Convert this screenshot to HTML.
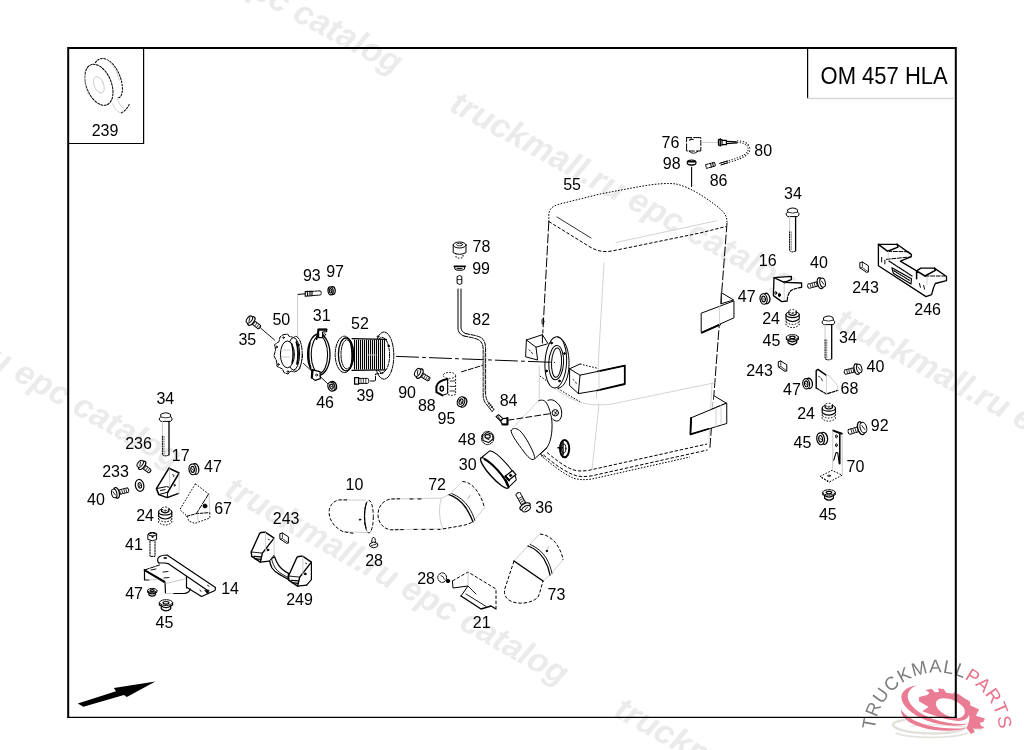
<!DOCTYPE html>
<html lang="en"><head><meta charset="utf-8"><title>OM 457 HLA</title>
<style>
html,body{margin:0;padding:0;background:#fff}
body{width:1024px;height:750px;overflow:hidden}
svg{display:block;will-change:transform;transform:translateZ(0)}
.lb text{font:16px "Liberation Sans",Arial,sans-serif;fill:#000}
.ttl{font:22px "Liberation Sans",Arial,sans-serif;fill:#000}
.wm text{font:italic bold 33.7px "Liberation Sans",Arial,sans-serif;fill:#ebebeb}
.lg{font:18.5px "Liberation Sans",Arial,sans-serif;letter-spacing:1px}
.p{fill:none;stroke:#000;stroke-width:1;stroke-linecap:round;stroke-linejoin:round}
.d{stroke-dasharray:3.4 1.8;stroke-linecap:butt}
.dd{stroke-dasharray:1.6 1.5;stroke-linecap:butt}
.g{stroke:#c8c8c8}
.w{fill:#fff}
</style></head><body>
<svg width="1024" height="750" viewBox="0 0 1024 750">
<rect width="1024" height="750" fill="#fff"/>
<g class="wm">
<text transform="translate(448 110) rotate(28.5)">truckmall.ru epc catalog</text>
<text transform="translate(833 327) rotate(28.5)">truckmall.ru epc catalog</text>
<text transform="translate(54 -110) rotate(28.5)">truckmall.ru epc catalog</text>
<text transform="translate(223 495) rotate(29.5)">truckmall.ru epc catalog</text>
<text transform="translate(-164 279) rotate(29.5)">truckmall.ru epc catalog</text>
<text transform="translate(612.5 715.5) rotate(29.5)">truckmall.ru epc catalog</text>
</g>
<g id="logo">
<g transform="translate(890 670) scale(0.10742)">
<g fill="none" stroke="#d9d9d2" stroke-linecap="round">
<path d="M700 540C600 610 250 600 110 560C-20 520 20 480 130 468" stroke-width="22" opacity=".8"/>
<path d="M60 590C200 640 560 640 720 590" stroke-width="16" opacity=".7"/>
<path d="M200 522C350 500 640 505 850 560" stroke-width="14" opacity=".6"/>
</g>
<g fill="#ea7c94">
<path d="M255 143C200 160 165 200 165 250C170 320 260 410 400 455C520 495 640 510 725 498C640 535 470 520 340 470C200 415 105 330 105 250C110 190 180 150 255 143Z"/>
<path d="M103 365C130 420 220 480 350 515C470 545 600 550 705 540C620 575 430 575 300 535C170 495 100 440 103 365Z"/>
<path fill-rule="evenodd" d="M270 252L348 232L368 212L330 186L388 174L418 208L458 204L446 170L502 180L522 212L585 222L600 208L640 225L700 268L712 272L745 296L748 330L795 352L830 368L812 398L800 425L850 442L884 452L868 484L836 492L848 522L880 530L858 548L792 548L772 540L790 578L752 596L712 540C745 480 740 430 735 415C730 450 700 470 640 475C560 475 420 430 300 385L360 345L270 290ZM433 291C406 349 490 420 595 446C680 458 715 410 687 351C640 290 560 262 500 262C465 262 444 272 433 291Z"/>
</g>
</g>
<path id="arc" d="M874.7 730A62.5 62.5 0 0 1 999.5 735A62.5 62.5 0 0 1 990 762" fill="none"/>
<text class="lg"><textPath href="#arc"><tspan fill="#7d7d7d">TRUCKMALL</tspan><tspan fill="#e8718c">PARTS</tspan></textPath></text>
</g>
<g fill="none" stroke="#000">
<path d="M68.2 718V48H955.8V718" stroke-width="2" stroke-linejoin="miter"/>
<path d="M67.2 717.4H956.8" stroke-width="1.4"/>
<path d="M143.6 48V143.5H68" stroke-width="1.2"/>
<path d="M807.6 48V98.3" stroke-width="1.2"/>
<path d="M807.6 98.5H955" stroke="#d8d8d8" stroke-width="1.4"/>
</g>
<text class="ttl" transform="translate(820.6 83.8) scale(1 1.07)">OM 457 HLA</text>
<g class="p" id="tank">
<!-- top face -->
<path class="dd" d="M548.8 222V215C549 209 552 206.5 558 204.5L600 194L640 186.5C655 183.8 668 182.8 676 184C690 187 705 197 718 207C724 212 727 216 727 222"/>
<path class="d" d="M548.8 221.5L590 247C598 251.5 604 252.3 612 251L700 233L726 226.5"/>
<path d="M557 217L591 238" stroke-width=".8"/>
<path class="g" d="M616 242.5L716.5 220.8" stroke-width=".8"/>
<!-- sides -->
<path d="M548.8 222L542.8 333" stroke-dasharray="9 3"/>
<path d="M727 223L709.8 449" stroke-dasharray="9 3"/>
<path class="g" d="M604 263L596.3 398M599 404L592 470M712 383L709 440" stroke-width=".8"/>
<ellipse cx="542.9" cy="321.5" rx=".9" ry="3"/>
<!-- contour -->
<path class="g" d="M539.2 366V400M548 383C556 390 566 397 577 401C588 405.5 600 405.5 612 404L714.4 382.8" stroke-width=".8"/>
<path class="dd" d="M540 376C552 385 566 394 580 401.6"/>
<!-- bottom -->
<path class="d" d="M547 452.5C555 459 563 465.5 570 468.5C575 471 580 471.5 588 470.5L707 444"/>
<path class="d" d="M543.5 455C553 463 564 471 573 474.6C578 476.8 584 477 592 475.8L707.5 450"/>
<path class="dd" d="M541 455.5C551 464 563 473.5 573 478C579 480 585 480 592 479L690 457"/>
<!-- right upper strap -->
<path d="M721.6 292.8L733.6 300L721.6 303.6Z" class="w"/>
<path d="M733.6 301L701.2 313.2V332.4L733.6 318Z" class="w"/>
<path d="M702 332.8L720 324.6" stroke-width="1.8"/>
<path class="g" d="M719.5 306.5V325" stroke-width=".8"/>
<!-- right lower strap -->
<path d="M714.4 396L726.4 403.2L712 409" class="w"/>
<path d="M726.4 403.2L691.6 417.6L690.4 434.4L726.4 423.6Z" class="w"/>
<path d="M691 417.8L690.4 434.4L708 429" stroke-width="1.8"/>
<path class="g" d="M716 408V426.5M721 405.5V425" stroke-width=".8"/>
<!-- front bracket -->
<path class="w" d="M569.6 368.8L580 364L598.4 368L624.8 365.6V384L597.6 390.4L578.4 393.6L569.6 385.6Z" stroke="none"/>
<path d="M569.6 368.8L580 375.2L624.8 365.6M580 375.2L578.4 393.6M569.6 368.8V385.6L578.4 393.6L597.6 390.4M569.6 368.8L580 364"/>
<path class="dd" d="M580 364L598.4 368.5"/>
<path d="M598 371.3L624.8 365.6V384L597.6 390.4" stroke-width="1.8"/>
<path class="g" d="M599 371V390" stroke-width=".8"/>
<path d="M573 379.5l1 .8M575.5 382l.8 1.4" stroke-width=".8"/>
<!-- left bracket -->
<path d="M526.4 340L542.4 334.7L548 343.5M526.4 340L536 347.2L547 344M526.4 340L525.6 356.8L537.6 360L536 347.2M542.4 334.7V343"/>
<path d="M529 350l1.2 .8M531.5 352.2l1 1.6" stroke-width=".8"/>
<!-- flange -->
<ellipse cx="555.8" cy="362.4" rx="10.8" ry="25.6" class="w" transform="rotate(3 556 362)"/>
<path d="M557.6 336.9C566 339 569.4 352 569 365C568.6 378 564.6 387.5 558 388.3"/>
<ellipse cx="556.2" cy="362.6" rx="7.4" ry="17.2" transform="rotate(3 556 362)"/>
<ellipse cx="556.6" cy="362.6" rx="5" ry="14.6" transform="rotate(3 556 362)"/>
<circle cx="551.5" cy="343" r=".9" fill="#000"/><circle cx="564.5" cy="353.5" r=".9" fill="#000"/>
<circle cx="546.5" cy="371" r=".9" fill="#000"/><circle cx="559.5" cy="381" r=".9" fill="#000"/>
<!-- outlet -->
<path class="w" d="M538.4 400.8C541 399.6 544.5 399.8 546.5 403C550 409 552.5 418 552 428C551.8 436 550 443 547 447.5L534.4 458.6L511.5 430Z" stroke="none"/>
<path d="M538.4 400.8C541 399.6 544.5 399.8 546.5 403C550 409 552.5 418 552 428C551.8 436 550 443 547 447.5L534.6 458.8"/>
<path class="g" d="M538.4 400.8L512 428.8" stroke-width=".8"/>
<path class="w" d="M511.2 430.5C512.5 428 516 427.6 519.5 430.5C524 434 530 445 533 452C535 456.5 535 459.5 533 459.6C530 459.6 526 455 521.5 448.5C516 441 510.5 433.5 511.2 430.5Z"/>
<path class="w" d="M548 400.3C550 399.5 552.6 399.6 554.5 400.8C558 403 561 406.5 561.6 411C562.2 415.5 561 419.5 558.4 420.8C556 421.5 554 420.5 552.6 419"/>
<circle cx="555.3" cy="412.8" r="3.2"/><path d="M553.8 411.5l3 2.6M556.8 410.6l-2.4 4.6" stroke-width=".8"/>
<path d="M508 420.2L552 413.4" stroke-dasharray="6 3"/>
<!-- drain plug -->
<ellipse cx="564.6" cy="448.6" rx="4.6" ry="8.6" stroke-width="2"/>
<ellipse cx="563.6" cy="448.4" rx="2.3" ry="4.6"/>
<path d="M558 447.8h4M563 442v13" stroke-width="1.4"/>
<path d="M540.5 454L547 447.8M540.5 454l2.6 2.2" />
</g>
<g class="p" id="left"><path class="w" d="M161 414.3Q165.7 411.2 170.4 414.3L170.8 417L172 418.2V420L170.4 421.4H161L159.4 420V418.2L160.6 417Z"/><path d="M161 417.1Q165.7 418.8 170.4 417.1" stroke-width=".8"/><path class="g" d="M162.4 421.4V436.3" stroke="#aaa"/><path d="M162.4 436.3V454.8Q165.7 457 169 454.8" stroke-dasharray="1.2 1.2"/><path d="M169 454.8V421.4" stroke-width="1.3"/><path d="M164 436.3V453.8" stroke-dasharray="1 1.4" stroke-width="1.2" stroke="#888"/><g transform="translate(140.2 463.8) rotate(38)"><path class="w" d="M3 -2.1H12Q13.8 0 12 2.1H3Z" stroke-dasharray="2.2 1"/><path d="M6 -1.5V1.5M8.2 -1.5V1.5M10.4 -1.5V1.5M12.4 -1.5V1.5" stroke-width=".7"/><ellipse class="w" cx="2.4" cy="0" rx="2.5" ry="4.9" stroke-width="1.3"/><ellipse class="w" cx="0" cy="0" rx="2.4" ry="4"/><path d="M-.8 -1.7L.8 1.7" stroke-width=".8"/></g><ellipse class="w" cx="139.6" cy="485.4" rx="4.2" ry="6" transform="rotate(-12 139.6 485.4)" stroke-width="1.2"/><ellipse cx="139.8" cy="485.4" rx="1.7" ry="2.8" transform="rotate(-12 139.6 485.4)"/><path d="M138.6 483.6l1.8 1.2l-1 2" stroke-width=".8"/><g transform="translate(114.2 493.4) rotate(-14)"><path class="w" d="M3 -2.3H14Q15.8 0 14 2.3H3Z" stroke-dasharray="2.2 1"/><path d="M6 -1.7V1.7M8.2 -1.7V1.7M10.4 -1.7V1.7M12.4 -1.7V1.7" stroke-width=".7"/><ellipse class="w" cx="2.4" cy="0" rx="2.7" ry="5.4" stroke-width="1.3"/><ellipse class="w" cx="0" cy="0" rx="2.6" ry="4.4"/><path d="M-.8 -1.9L.8 1.9" stroke-width=".8"/></g><g transform="translate(192.6 469.4) rotate(-8)"><ellipse class="w" cx="2.6" cy="0" rx="3.6" ry="5.4" stroke-width="1.3"/><ellipse class="w" cx="0" cy="0" rx="3.6" ry="5.4" stroke-width="1.2"/><ellipse cx="0" cy="0" rx="1.8" ry="3" stroke-width="1.1"/><path d="M-.8 -1L.8 1" stroke-width=".8"/></g><path class="w" d="M169 468.2L179.2 473V491L178.6 493.4L167.2 497.6L158.8 494.6L156.4 488.6Z" stroke="none"/>
<path d="M169 468.2L156.4 488.6L158.8 494.6L167.2 497.6L178.6 493.4" stroke-width="1.5"/>
<path d="M169 468.2L179.2 473L167.8 492.2" stroke-width="1.5"/>
<path d="M156.4 488.6L166.6 486.6L169.6 487.4M158.8 494.6L167.8 492.2L167.2 497.6M160.5 490.5L165 489.6" stroke-width="1"/>
<path class="g" d="M169.6 468.8V487.4M179.2 473V491L178.6 493.4" stroke-width=".9"/>
<path d="M172.6 474.6l1.6 .8l-.6 1.4M174.6 484.4l1.2 .8l-1.2 .8z" stroke-width=".8"/><path class="w" d="M195.4 483.8L208.6 494L209.8 512.6V518L194.8 523.4L188.8 521L187 516.2L179.8 509.6Z" stroke="none"/>
<path class="dd" d="M195.4 483.8L179.8 509.6L187 516.2M195.4 483.8L208.6 494"/>
<path d="M208.6 494L196.4 513.6" stroke-dasharray="5 1.5"/>
<path d="M187 516.2L196.4 513.6L209.8 512.6" stroke-dasharray="3 1.5"/>
<path class="dd" d="M187 516.2L188.8 521L194.8 523.4L209.8 518V512.6"/>
<path class="g" d="M209 495L209.8 512.6M197.5 514L198.2 522" stroke-width=".9"/>
<circle cx="205" cy="506" r="1.9" fill="#000"/><path class="w dd" d="M158.6 518V522.5Q165.2 527.5 171.8 522.5V518"/><path class="dd" d="M158.6 519.4Q165.2 524.4 171.8 519.4"/><path class="w" d="M158.6 512V516.5Q165.2 521.5 171.8 516.5V512" stroke-width="1.2"/><ellipse class="w" cx="165.2" cy="512" rx="6.6" ry="3" stroke-width="1.2"/><path class="w" d="M161.6 508.6V511.6Q165.2 514 168.8 511.6V508.6" stroke-width="1.2"/><ellipse class="w dd" cx="165.2" cy="508.6" rx="3.6" ry="1.6"/><path d="M164.2 510.4l1 1l1 -1" stroke-width=".8"/><path class="w" d="M148.2 534.2Q152.4 531.4 156.6 534.2V539.6Q152.4 542 148.2 539.6Z"/>
<ellipse cx="152.4" cy="534.2" rx="4.2" ry="1.7"/><circle cx="152.4" cy="536.8" r=".6" fill="#000"/>
<path d="M150 541V556.4H155V541" stroke-dasharray="1.6 1.2"/><path class="w" d="M157.5 559C157.6 556.6 160.6 555 164 555H167L215.5 587.5L215 590.5L201.5 596.5L190.5 589.6C189 592 186.6 593.4 184 593.5H165.5L165 582L144.5 580V570L159.5 565L159 563Z" stroke="none"/>
<path d="M159 563C157 561.6 157 558.4 159.6 556.6C161.6 555.2 164 555 167 555L215.5 587.5L215 590.5L201.5 596.5L187 587.5" stroke-width="1.2"/>
<path d="M159 563H165L168 563.6L207.6 590.4" stroke-width="1.2"/>
<path d="M205 590.6L207.8 594L209 590.6Z" fill="#000" stroke-width=".8"/>
<path d="M159.5 565L144.5 570" stroke-dasharray="4 1.4"/>
<path d="M144.5 570L165 582" stroke-width="1.8" stroke-dasharray="5 1"/>
<path d="M146 571.6L163.6 582.4" stroke-width=".8"/>
<path d="M144.5 570V580H149M165 582L165.5 593.5M173 593.5H184C187 593.4 189.4 591.6 190.5 589" stroke-width="1.2"/>
<path d="M186.5 576V588" stroke-width="1.2"/>
<path class="g" d="M149 580L156.5 579.5M165.5 593.5H173M166 583.5L185 579" stroke-width="1"/>
<path d="M163 572L168 571.5M164 578L169 577.5M151 570L156 569" stroke-width=".9"/>
<ellipse cx="165" cy="558" rx="1.5" ry=".6" stroke-width=".8"/><path d="M200 590l1 1.4M207.6 585.4l1.4 .8" stroke-width=".9"/><path class="w" d="M147.6 590.4V592L148.9 592.8V594.7Q152.2 597.7 155.5 594.7V592.8L156.8 592V590.4" stroke-width="1.2"/><ellipse class="w" cx="152.2" cy="590.4" rx="4.6" ry="2" stroke-dasharray="3 1"/><ellipse cx="152.2" cy="590.6" rx="2.1" ry="0.9" stroke-width="1.2"/><path d="M148.9 592.8Q152.2 595.1 155.5 592.8" stroke-width="1.2"/><path class="w" d="M159.4 602.6V604.9L161.3 606V608.8Q166 613 170.7 608.8V606L172.6 604.9V602.6" stroke-width="1.2"/><ellipse class="w" cx="166" cy="602.6" rx="6.6" ry="2.9" stroke-dasharray="3 1"/><ellipse cx="166" cy="602.8" rx="3" ry="1.3" stroke-width="1.2"/><path d="M161.3 606Q166 609.4 170.7 606" stroke-width="1.2"/><path class="w" d="M280.2 533.6L282.4 533L288.4 536.8V542.8L286.6 543.4L280.2 539Z"/><path d="M282.4 533V538.6L288.4 542.8M280.2 539L282.4 538.6" stroke-width=".8" stroke-dasharray="1.5 1"/><path class="w" d="M269.3 559.5C270 563 271 566 272 568C274 571 277 573 279.5 574.4L288 579.2L288.5 573.3C284 571 280.5 568 278.4 564.8C276.6 562 275.4 559.4 274.7 556.8Z" stroke-width="1.3"/>
<path d="M271.6 559C272.6 563 274 566.4 276 569C278.6 572 282 574.6 288.2 577.4" stroke-width=".9"/><path class="w" d="M259.7 533.3L265.6 532.3L274.1 538.1L274.1 555.2L269.3 561.1L260.3 562.1L251.7 556.3L251.2 552.0Z" stroke="none"/><path d="M251.7 556.3L251.2 552.0L259.7 533.3Q261.0 532.0 265.6 532.3L274.1 538.1L262.4 553.1L260.3 562.1" stroke-width="1.4"/><path d="M251.7 556.3L260.3 562.1L269.3 561.1" stroke-width="1.4"/><path d="M251.2 552.0L262.4 553.1" stroke-width=".9"/><path d="M253.9 556.3L261.3 556.8M254.5 558.6L260.8 559.4" stroke-width="1.3"/><path class="g" d="M265.6 532.6V552.0" stroke-width=".9"/><path class="g" d="M274.1 538.1V555.2" stroke-width=".9"/><path d="M274.1 555.2L269.3 561.1" stroke-width="1"/><circle cx="267.9" cy="549.9" r=".9" fill="#000"/><path d="M268.2 539.2l1.2 .6" stroke-width=".8"/><path class="w" d="M297.0 557.3L302.9 556.3L311.4 562.1L311.4 579.2L306.6 585.1L297.6 586.1L289.0 580.3L288.5 576.0Z" stroke="none"/><path d="M289.0 580.3L288.5 576.0L297.0 557.3Q298.3 556.0 302.9 556.3L311.4 562.1L299.7 577.1L297.6 586.1" stroke-width="1.4"/><path d="M289.0 580.3L297.6 586.1L306.6 585.1" stroke-width="1.4"/><path d="M288.5 576.0L299.7 577.1" stroke-width=".9"/><path d="M291.2 580.3L298.6 580.8M291.8 582.6L298.1 583.4" stroke-width="1.3"/><path class="g" d="M302.9 556.6V576.0" stroke-width=".9"/><path d="M311.4 562.1V579.6L306.6 585.1" stroke-width="1.2"/><circle cx="305.2" cy="573.9" r=".9" fill="#000"/><path d="M305.5 563.2l1.2 .6" stroke-width=".8"/></g>
<g class="p" id="mid"><path d="M396.5 356.4L554.5 362.4" stroke-dasharray="22 4 3 4"/><path class="g" d="M297.6 295V336" stroke-width=".9"/><path d="M298 294.4L305 293.8" /><path d="M305.2 291.6L312 291.2V295.8L305.2 296.2ZM307.6 291.4V296M310 291.2V296" stroke-width="1.1"/><path d="M312 291.4L320.4 290.8Q322 292.8 320.6 295L312 295.6" stroke-dasharray="2 1"/><g transform="translate(330.6 290.8) rotate(-5)"><ellipse class="w" cx="2" cy="0" rx="2.6" ry="4" stroke-width="1.3"/><ellipse class="w" cx="0" cy="0" rx="2.6" ry="4" stroke-width="1.2"/><ellipse cx="0" cy="0" rx="1.3" ry="2.2" stroke-width="1.1"/><path d="M-.8 -1L.8 1" stroke-width=".8"/></g><g transform="translate(249.4 319.6) rotate(37)"><path class="w" d="M3 -2.1H12.5Q14.3 0 12.5 2.1H3Z" stroke-dasharray="2.2 1"/><path d="M6 -1.5V1.5M8.2 -1.5V1.5M10.4 -1.5V1.5M12.4 -1.5V1.5" stroke-width=".7"/><ellipse class="w" cx="2.4" cy="0" rx="2.5" ry="5" stroke-width="1.3"/><ellipse class="w" cx="0" cy="0" rx="2.4" ry="4.1"/><path d="M-.8 -1.8L.8 1.8" stroke-width=".8"/></g><path d="M261 328.4L274.6 340" stroke-width=".9"/><path class="w" d="M283 334.8L287.6 334L289 336.4C292 336.6 294.4 337.8 296 340L300 343L300.6 350L302.6 356L301 363L299.6 369L294.6 372L291 371L288 374L284 372.6L282.6 369L277 366.4L276.6 361L274 356L275.6 349.6L274.6 344.6L279 341.6L280 337Z" stroke-dasharray="3.4 1.2"/>
<ellipse cx="295.8" cy="353.8" rx="6.4" ry="17.4" class="w" stroke-dasharray="4 1.4"/>
<ellipse cx="293.6" cy="353.8" rx="6" ry="16.2" class="w"/>
<ellipse cx="287.4" cy="354.4" rx="7" ry="13.4" class="w"/>
<path d="M296.4 342C298.4 348 298.6 358 297 364" stroke-width="1.8"/>
<path d="M291.6 343.4C293.2 349 293.2 358 292 363.4" stroke-width="1.4"/>
<path class="g" d="M281 350H290M281 357H290" stroke-width=".9"/>
<circle cx="283.6" cy="337.6" r=".8"/><circle cx="276.6" cy="347" r=".8"/><circle cx="278.4" cy="364.4" r=".8"/><circle cx="288" cy="371.6" r=".8"/><circle cx="298.4" cy="345" r=".8"/>
<path d="M303.4 363.4L311.8 371" stroke-width=".9"/><ellipse cx="318.8" cy="354.6" rx="11.2" ry="20.6" class="w" stroke-width="1.3"/>
<ellipse cx="319.4" cy="354.6" rx="8.2" ry="18.6" stroke-width="1.1"/>
<path d="M310 343C308 350 308.2 361 310.6 367.6" stroke-width="1.6"/>
<path class="w" d="M318.6 337.6V329.4H326.6V331.6L322.6 332V337.6Z" stroke-width="1.2"/>
<path d="M318.4 329.6H326.4" stroke-width="2.2"/>
<path d="M316.6 339L318.4 330" stroke-width="1.8"/>
<circle cx="324.6" cy="334.6" r="1" stroke-width=".8"/>
<path class="w" d="M312.4 369.8L311.6 377.6L315 380.4L320.4 378.6L320 371.6Z" stroke-width="1.2"/>
<path d="M312.6 370L311.8 377.6" stroke-width="2.2"/>
<circle cx="316.6" cy="375" r="1" stroke-width=".8"/>
<path d="M319.6 376L328 384" stroke-width=".9"/><g transform="translate(331.4 386.6) rotate(-20)"><ellipse class="w" cx="1.8" cy="0" rx="3.4" ry="4.6" stroke-width="1.3"/><ellipse class="w" cx="0" cy="0" rx="3.4" ry="4.6" stroke-width="1.2"/><ellipse cx="0" cy="0" rx="1.7" ry="2.5" stroke-width="1.1"/><path d="M-.8 -1L.8 1" stroke-width=".8"/></g><ellipse cx="384" cy="355.6" rx="9.8" ry="23.6" class="w" stroke-dasharray="3.4 1.2"/>
<ellipse cx="382" cy="355" rx="7.6" ry="17.6" stroke-dasharray="3 1.4"/>
<rect x="350" y="339" width="34" height="31" class="w" stroke="none"/>
<path d="M354.5 339.4V369.6M356.5 340V369.6M358.5 339.4V369.6M360.5 340V369.6M362.5 339.4V369.6M364.5 340V369.6M366.5 339.4V369.6M368.5 340V369.6M370.5 339.4V369.6M372.5 340V369.6M374.5 339.4V369.6M376.5 340V369.6M378.5 339.4V369.6M380.5 340V369.6M382.5 339.4V369.6M384.5 340V369.6" stroke-width="1.1" stroke-linecap="butt"/>
<path d="M352 338.6L386.4 339.4M352 370.4L385.6 369.8" stroke-width="1.2"/>
<ellipse cx="344.4" cy="354.4" rx="9.2" ry="18.2" class="w" stroke-dasharray="3.4 1.2"/>
<ellipse cx="346" cy="354.4" rx="7.6" ry="16.4" stroke-width="1.3"/>
<ellipse cx="346.8" cy="354.4" rx="5.8" ry="14.6" stroke-dasharray="3 1.2"/>
<path d="M349 340C352.6 345 353 364 349.6 369" stroke-width="1.3"/>
<circle cx="388.6" cy="346" r=".8" fill="#000"/><circle cx="378" cy="336.6" r=".8"/>
<path class="g" d="M368 355H376" stroke-width="1.2"/><path class="w" d="M354.6 377.6H358.6V384.2H354.6Z" stroke-width="1.3"/><path d="M358.6 378.4H368Q369.8 381 368 383.4H358.6" stroke-dasharray="2.2 1"/><path d="M361 378.6V383.2M363.4 378.6V383.2M365.8 378.6V383.2" stroke-width=".7"/><path d="M370.6 381H375.5V374L383 373.2" stroke-dasharray="4 1.6"/><g transform="translate(417.6 372.4) rotate(31)"><path class="w" d="M3 -2.1H13Q14.8 0 13 2.1H3Z" stroke-dasharray="2.2 1"/><path d="M6 -1.5V1.5M8.2 -1.5V1.5M10.4 -1.5V1.5M12.4 -1.5V1.5" stroke-width=".7"/><ellipse class="w" cx="2.4" cy="0" rx="2.6" ry="5.2" stroke-width="1.3"/><ellipse class="w" cx="0" cy="0" rx="2.5" ry="4.3"/><path d="M-.8 -1.8L.8 1.8" stroke-width=".8"/></g><path class="w dd" d="M447.8 376V394.4Q451.6 396.4 455.6 394.4V376"/>
<ellipse cx="449.4" cy="375.4" rx="6.2" ry="3" class="w dd"/>
<path d="M450 381h5M450 386.4h5M450 391h5" stroke-width=".8"/>
<path class="w" d="M447.4 379C442 380 437.4 382.6 436.4 386.4V392.2L442.4 395.4L447.6 393.6Z" stroke="none"/>
<path d="M447.4 379C442 380 437.4 382.6 436.4 386.4V392.2L442.4 395.4" stroke-width="2"/>
<path d="M442.4 395.4L447.6 393.6V379"/>
<ellipse cx="441.8" cy="388.6" rx="1.7" ry="2.4" stroke-width="1.4"/><g transform="translate(461 401.6) rotate(20)"><ellipse class="w" cx="2.2" cy="0" rx="3.6" ry="5" stroke-width="1.3"/><ellipse class="w" cx="0" cy="0" rx="3.6" ry="5" stroke-width="1.2"/><ellipse cx="0" cy="0" rx="1.8" ry="2.8" stroke-width="1.1"/><path d="M-.8 -1L.8 1" stroke-width=".8"/></g><path d="M461.6 371.8L483.2 365.2" stroke-dasharray="5 2"/><path class="w dd" d="M456 253V257.4Q459.6 259 463 257.4V253"/>
<path class="w" d="M453.2 245V252.6Q459.6 256 466 252.6V245"/>
<ellipse cx="459.6" cy="245" rx="6.4" ry="3" class="w"/><ellipse cx="459.6" cy="244.6" rx="3" ry="1.3" stroke-width=".8"/><path d="M454.4 266.4H465" stroke-width="1.8"/><path d="M454.6 267Q454 270 457 270.2H462.4Q465.4 270 464.8 267M457 268.6h5" stroke-width="1"/><path class="w" d="M457.4 276.4Q459.6 274.6 461.8 276.4V283.6Q459.6 285.4 457.4 283.6Z"/><path d="M457.6 279.6h4" stroke-width=".8"/>
<path d="M458 289V328C458 332 460 334.6 464 336" /><path d="M461 289V327C461 330 462.4 332.6 466 333.6"/>
<path d="M464 336C470 337.4 476 338 479.6 340.4C482.4 342.6 483.2 346 483.2 350V395.8C483.4 400 485 403 487 405" stroke-dasharray="4 1.4"/>
<path d="M466 333.6C472 335 478 335.6 481.6 338C484.6 340.4 485.6 344 485.6 349V394C485.8 398 487 401 489 403.4" stroke-dasharray="4 1.4"/>
<path class="g" d="M484.4 352V392" stroke-width="1.4"/>
<path d="M487 405L492 411.4M489.2 403.2L494 409.6M488 404.4l1.6 -1.4M489.4 406.2l1.6 -1.4M490.8 408l1.6 -1.4M492 411.4l2 -1.8" stroke-width=".9"/><path class="w" d="M496 416.6L498.6 414.6L503 418.6L500.6 421Z" stroke-width="1.1"/>
<path d="M497.6 415.6l2.8 4.4" stroke-width=".8"/>
<path class="w" d="M500.6 421L503 418.6L507.6 418.2V424.4H502.4Z" stroke-width="1.2"/>
<path d="M507.4 418V424.6H502.6" stroke-width="2"/><ellipse cx="487.6" cy="438" rx="6.2" ry="6.6" class="w" stroke-dasharray="3 1.2"/>
<path d="M482.6 435.6L487 432.6L492.6 434.4L493 439L488.6 442.6L483 440.6Z" stroke-width="1.1"/>
<ellipse cx="487.6" cy="436.4" rx="2.6" ry="1.8" stroke-width="1.2"/><path d="M486.4 438.6l2.6 1" stroke-width=".9"/><g transform="translate(494.5 473) rotate(48)">
<path class="w" d="M-20.2 0L-19.6 -11.6A20.2 4.6 0 0 1 19.6 -11.6L20.2 0" stroke-width="1"/>
<ellipse cx="0" cy="0" rx="20.2" ry="4.6" class="w" stroke-width="1.4"/>
<path d="M-17 -1.6C-8 -4.8 10 -4.8 17.6 -1.4" stroke-width="1.6"/>
</g>
<path class="w" d="M505.4 476L512.6 470.6L516 474.6L509 480Z" stroke-width="1.3"/>
<path d="M505.6 480L508.6 487M505.4 476.4l3.6 4" stroke-width="2"/>
<circle cx="510.6" cy="475.4" r="1.1" fill="#000"/><g transform="translate(526.2 508.6) rotate(-119)"><path class="w" d="M3 -2.4H17Q18.8 0 17 2.4H3Z" stroke-dasharray="2.2 1"/><path d="M6 -1.8V1.8M8.2 -1.8V1.8M10.4 -1.8V1.8M12.4 -1.8V1.8" stroke-width=".7"/><ellipse class="w" cx="2.4" cy="0" rx="2.8" ry="5.6" stroke-width="1.3"/><ellipse class="w" cx="0" cy="0" rx="2.7" ry="4.6"/><path d="M-.8 -2L.8 2" stroke-width=".8"/></g><path class="w" d="M372.2 538.4Q373.6 536.4 375 538.4L375.6 542.6H371.6Z" stroke-dasharray="2 1"/>
<path class="w" d="M370.2 543.4Q373.6 540.6 377.4 543.4L377.8 546Q373.8 549.6 369.8 546Z"/><path d="M371.4 545.6l4.6 -1.4" stroke-width=".8"/><ellipse cx="442.2" cy="577.6" rx="4.4" ry="4.8" class="w" stroke-dasharray="3 1.2"/><path d="M441 575.6q3 .6 3.4 3.6" stroke-width=".8"/><circle cx="448" cy="581" r="1.7" fill="#000"/></g>
<g class="p" id="right"><path class="w" d="M787.9 209.5Q792.6 206.4 797.3 209.5L797.7 212.2L798.9 213.4V215.2L797.3 216.6H787.9L786.3 215.2V213.4L787.5 212.2Z"/><path d="M787.9 212.3Q792.6 214 797.3 212.3" stroke-width=".8"/><path class="g" d="M789.6 216.6V231.9" stroke="#aaa"/><path d="M789.6 231.9V250.8Q792.6 253 795.6 250.8" stroke-dasharray="1.2 1.2"/><path d="M795.6 250.8V216.6" stroke-width="1.3"/><path d="M791.2 231.9V249.8" stroke-dasharray="1 1.4" stroke-width="1.2" stroke="#888"/><path class="w" d="M774 277.6L791.4 276.4V279.4L801.6 283V287.2C797 288 793 289 790.8 290.8C788.4 293 787.4 297 787.2 301L781.8 301.6L773.4 295.6Z" stroke="none"/>
<path d="M774 277.6L791.4 276.4V279.6L784.2 282.4Z" stroke-width="1.3"/>
<path d="M774 277.6L773.4 295.6L781.8 301.6L787.2 301" stroke-width="1.3"/>
<path d="M784.2 282.4L801.6 283V287.4" stroke-width="1.3"/>
<path d="M801.6 287.4C797 288 793 289 790.8 290.8C788.4 293 787.4 297 787.2 301" stroke-dasharray="3 1.6" stroke-width="1.2"/>
<path class="g" d="M784.2 283V300" stroke-width=".9"/>
<ellipse cx="775.8" cy="293" rx=".9" ry="1.5"/><ellipse cx="779.4" cy="295" rx="1" ry="1.7" fill="#000"/>
<circle cx="784.4" cy="282.2" r=".8" class="w"/><g transform="translate(822.6 282.6) rotate(165.5)"><path class="w" d="M3 -2.2H14.5Q16.3 0 14.5 2.2H3Z" stroke-dasharray="2.2 1"/><path d="M6 -1.6V1.6M8.2 -1.6V1.6M10.4 -1.6V1.6M12.4 -1.6V1.6" stroke-width=".7"/><ellipse class="w" cx="2.4" cy="0" rx="2.8" ry="5.6" stroke-width="1.3"/><ellipse class="w" cx="0" cy="0" rx="2.7" ry="4.6"/><path d="M-.8 -2L.8 2" stroke-width=".8"/></g><g transform="translate(763.6 299) rotate(-10)"><ellipse class="w" cx="2.8" cy="0" rx="3.5" ry="5.3" stroke-width="1.3"/><ellipse class="w" cx="0" cy="0" rx="3.5" ry="5.3" stroke-width="1.2"/><ellipse cx="0" cy="0" rx="1.8" ry="2.9" stroke-width="1.1"/><path d="M-.8 -1L.8 1" stroke-width=".8"/></g><path class="w" d="M860.2 262.6L862.4 262L868.4 265.8V271.8L866.6 272.4L860.2 268Z"/><path d="M862.4 262V267.6L868.4 271.8M860.2 268L862.4 267.6" stroke-width=".8" stroke-dasharray="1.5 1"/><path class="w dd" d="M786 320.6V325.1Q792.6 330.1 799.2 325.1V320.6"/><path class="dd" d="M786 322Q792.6 327 799.2 322"/><path class="w" d="M786 314.6V319.1Q792.6 324.1 799.2 319.1V314.6" stroke-width="1.2"/><ellipse class="w" cx="792.6" cy="314.6" rx="6.6" ry="3" stroke-width="1.2"/><path class="w" d="M789 311.2V314.2Q792.6 316.6 796.2 314.2V311.2" stroke-width="1.2"/><ellipse class="w dd" cx="792.6" cy="311.2" rx="3.6" ry="1.6"/><path d="M791.6 313l1 1l1 -1" stroke-width=".8"/><path class="w" d="M786.4 337.2V339.3L788.1 340.3V342.8Q792.4 346.7 796.7 342.8V340.3L798.4 339.3V337.2" stroke-width="1.2"/><ellipse class="w" cx="792.4" cy="337.2" rx="6" ry="2.6" stroke-dasharray="3 1"/><ellipse cx="792.4" cy="337.4" rx="2.7" ry="1.2" stroke-width="1.2"/><path d="M788.1 340.3Q792.4 343.4 796.7 340.3" stroke-width="1.2"/><path class="w" d="M823.8 317.5Q828.4 314.4 833 317.5L833.4 320.2L834.6 321.4V323.2L833 324.6H823.8L822.2 323.2V321.4L823.4 320.2Z"/><path d="M823.8 320.3Q828.4 322 833 320.3" stroke-width=".8"/><path class="g" d="M825.1 324.6V339.9" stroke="#aaa"/><path d="M825.1 339.9V358.8Q828.4 361 831.7 358.8" stroke-dasharray="1.2 1.2"/><path d="M831.7 358.8V324.6" stroke-width="1.3"/><path d="M826.7 339.9V357.8" stroke-dasharray="1 1.4" stroke-width="1.2" stroke="#888"/><path class="w" d="M778.6 361.6L780.8 361L786.8 364.8V370.8L785 371.4L778.6 367Z"/><path d="M780.8 361V366.6L786.8 370.8M778.6 367L780.8 366.6" stroke-width=".8" stroke-dasharray="1.5 1"/><g transform="translate(859.2 368.6) rotate(166)"><path class="w" d="M3 -2.2H14.5Q16.3 0 14.5 2.2H3Z" stroke-dasharray="2.2 1"/><path d="M6 -1.6V1.6M8.2 -1.6V1.6M10.4 -1.6V1.6M12.4 -1.6V1.6" stroke-width=".7"/><ellipse class="w" cx="2.4" cy="0" rx="2.7" ry="5.4" stroke-width="1.3"/><ellipse class="w" cx="0" cy="0" rx="2.6" ry="4.4"/><path d="M-.8 -1.9L.8 1.9" stroke-width=".8"/></g><g transform="translate(806.2 383.8) rotate(-8)"><ellipse class="w" cx="2.8" cy="0" rx="3.4" ry="5.2" stroke-width="1.3"/><ellipse class="w" cx="0" cy="0" rx="3.4" ry="5.2" stroke-width="1.2"/><ellipse cx="0" cy="0" rx="1.7" ry="2.9" stroke-width="1.1"/><path d="M-.8 -1L.8 1" stroke-width=".8"/></g><path class="w" d="M816.2 370.6L818 369.4L826.4 375.4H828.8L837.8 385.6V390.4L826.4 394L816.2 388Z" stroke="none"/>
<path d="M816.2 388V370.6L818 369.4L826.4 375.4" stroke-width="1.4"/>
<path d="M816.2 388L826.4 394L837.8 390.4" stroke-dasharray="3 1.4" stroke-width="1.2"/>
<path class="g" d="M826.4 375.4V393.6M826.4 375.4H828.8L837.8 385.6V390.4" stroke-width=".9"/>
<path d="M818.6 376.4l1.6 .8M821.4 378.6l1 2.2" stroke-width=".8"/><path class="w dd" d="M822.2 414.2V418.7Q828.8 423.7 835.4 418.7V414.2"/><path class="dd" d="M822.2 415.6Q828.8 420.6 835.4 415.6"/><path class="w" d="M822.2 408.2V412.7Q828.8 417.7 835.4 412.7V408.2" stroke-width="1.2"/><ellipse class="w" cx="828.8" cy="408.2" rx="6.6" ry="3" stroke-width="1.2"/><path class="w" d="M825.2 404.8V407.8Q828.8 410.2 832.4 407.8V404.8" stroke-width="1.2"/><ellipse class="w dd" cx="828.8" cy="404.8" rx="3.6" ry="1.6"/><path d="M827.8 406.6l1 1l1 -1" stroke-width=".8"/><g transform="translate(863.4 427.6) rotate(163)"><path class="w" d="M3 -2.5H15Q16.8 0 15 2.5H3Z" stroke-dasharray="2.2 1"/><path d="M6 -1.9V1.9M8.2 -1.9V1.9M10.4 -1.9V1.9M12.4 -1.9V1.9" stroke-width=".7"/><ellipse class="w" cx="2.4" cy="0" rx="3.3" ry="6.6" stroke-width="1.3"/><ellipse class="w" cx="0" cy="0" rx="3.2" ry="5.4"/><path d="M-.8 -2.3L.8 2.3" stroke-width=".8"/></g><g transform="translate(820.6 438.8) rotate(-8)"><ellipse class="w" cx="3.2" cy="0" rx="3.8" ry="6" stroke-width="1.3"/><ellipse class="w" cx="0" cy="0" rx="3.8" ry="6" stroke-width="1.2"/><ellipse cx="0" cy="0" rx="1.9" ry="3.3" stroke-width="1.1"/><path d="M-.8 -1L.8 1" stroke-width=".8"/></g><path class="w" d="M833.2 430.8L841.6 433.8L842.2 475.2L829.6 481.8L820 476.4L832.6 470Z" stroke="none"/>
<path d="M833.2 430.6L841.8 433.8" stroke-width="2"/>
<path d="M839.8 434.4V463.8" stroke-width="1.5"/>
<path class="g" d="M832.8 431V469.4M842 434.4L842.3 475" stroke-width="1"/>
<ellipse cx="836.4" cy="436.4" rx=".9" ry="1.5"/><ellipse cx="836.4" cy="445.2" rx=".9" ry="1.5"/>
<path d="M833.8 460.2L836 452.6L837.8 452.8L839.2 463.6" stroke-width="1.1"/>
<path class="dd" d="M820 476.4L832 470.4L842.2 475.2L829.6 481.8ZM821.6 477.6L829.8 483"/>
<ellipse cx="829" cy="475.8" rx="1.6" ry=".7" stroke-width=".8"/><path class="w" d="M822.8 492.4V494.6L824.6 495.6V498.2Q829 502.2 833.4 498.2V495.6L835.2 494.6V492.4" stroke-width="1.2"/><ellipse class="w" cx="829" cy="492.4" rx="6.2" ry="2.7" stroke-dasharray="3 1"/><ellipse cx="829" cy="492.6" rx="2.8" ry="1.2" stroke-width="1.2"/><path d="M824.6 495.6Q829 498.8 833.4 495.6" stroke-width="1.2"/><path class="w" d="M878.4 244.3H897.1L911.5 254.6L911 256.9L900.3 261.1L916.6 270.9L920.8 268.1H934.4L946.5 276.5V280.7L935.3 283.5C933.4 287 932.4 291 931.6 294.7L926 296.6L878.4 265.8Z" stroke-width="1.3"/>
<path d="M878.4 244.3L887.7 251.3L898 247.1L897.1 244.3" stroke-width="1.5"/>
<path d="M887.7 251.3L909.2 251.8L911.5 254.6" stroke-dasharray="4 1.6"/>
<path d="M886.3 259.3L911 256.9" stroke-dasharray="4 1.6"/>
<path class="g" d="M888.2 251.5V258.5M927 276.5V284" stroke-width=".9"/>
<path d="M889.1 261.1L912 276" stroke-dasharray="1.2 1.2" stroke-width="1.3"/>
<path d="M891.9 267.7L893.3 273.2L911 284L911.5 278.8Z" stroke-width="1.2"/>
<path d="M894 270.8L910 280.6" stroke-dasharray="1.2 1.2" stroke-width="1.3"/>
<path d="M916.6 270.9L925 276L935.3 270.4L934.4 268.1M916.6 270.9V278.8" stroke-width="1.5"/>
<path d="M925 276L944.6 276" stroke-dasharray="4 1.6"/>
<path d="M881.7 257.4v4.6M884.9 260.2v3.7M919.4 283.5l1 3.7M923.6 285.4l1 3.7" stroke-width="1"/></g>
<g class="p" id="pipes">
<!-- pipe 10 -->
<path class="g" d="M339.3 499.9L365.7 500.2M342.9 531.8L368 532.6" stroke-width=".9"/>
<path class="d" d="M347 499.9L339.3 499.9C333 501 329.1 506 329.1 512.2C329.1 520 334 527 342.9 531.6L354 533.4"/>
<ellipse cx="368.9" cy="516.6" rx="4.4" ry="16.2" class="d"/>
<path d="M366 528C364 522 364 510 366.4 503" stroke-width="1.2"/>
<circle cx="360" cy="519.6" r=".7" fill="#000"/>
<!-- pipe 72 -->
<path class="g" d="M390.3 499L441.3 498.1L449.2 494.6L462.4 481.4M484.4 507.8L472.9 521.9M441.3 498.1C438.6 507 438.8 520 443 528.9M390 529.8L443 528.9" stroke-width=".9"/>
<path class="d" d="M400 498.8L390.3 499C383 500.5 378 506.5 378 514.8C378 523 383.5 528.6 390.3 529.8L405 529.6"/>
<path d="M410 499H422M414 529.4H440" stroke-dasharray="3 5"/>
<path class="d" d="M443 528.9L460 526C466 525 470 523.4 472.9 521.9"/>
<path class="d" d="M462.4 481.4C468 482 472 484.6 476 489.6C480 495 483.4 502 484.4 507.8"/>
<path d="M449.2 494.6C456 497 462 502 466 508C469 513 471.6 518 472.9 521.9" stroke-width="1.4"/>
<path d="M451.8 493.6C458.6 496 464.4 501 468.6 507C471.4 511.4 473.6 516 474.8 520.4" stroke-width=".9"/>
<path class="g" d="M467.6 498.6L470.4 495.4" stroke-width="1.2"/>
<!-- pipe 73 -->
<path class="g" d="M528 546L540 534M563 560L550 575M528 546L514 561M550 575L543 581" stroke-width=".9"/>
<path class="d" d="M540 534C546 534.6 551 537.4 555.4 542.6C559.6 548 562.4 554.6 563 560"/>
<path d="M528 546C534.6 548.4 540 553 544 559C547 564 549.2 570 550 575" stroke-width="1.3"/>
<path d="M530.4 544.6C537 547.4 542.4 552 546.2 558C549 562.6 551 568.6 552 573.4" stroke-width=".9"/>
<path d="M514 561L543 581" stroke-width="1.5"/>
<path class="d" d="M514 561L505.4 587C503.6 592 504.4 596 508 599.4C512 602.6 518 603.6 524 603C530 602.4 535.6 600 538 597L539.4 594L543 581"/>
<path class="g" d="M547 550.4L548.4 546.6" stroke-width="1.2"/><circle cx="546.8" cy="551" r=".7" fill="#000"/>
<!-- part 21 -->
<path class="w" d="M452.4 581L468 572L496 589V609L491 606L481 609L461 596L468 586L453 588Z" stroke="none"/>
<path class="d" d="M452.4 581L468 572L496 589V608.6"/>
<path d="M452.4 581L453 588L468 586L461 596"/>
<path d="M461 596L481 609L491 606L496 609" stroke-width="1.4"/>
<path d="M466 594L486 606.4" stroke-width=".9"/>
<path class="g" d="M468 572.6V586" stroke-width=".9"/>
<path d="M468 586L476 594" stroke-width=".9"/>
</g>
<g class="p" id="top">
<!-- 239 roll -->
<g transform="translate(50 30) scale(.1734)">
<path d="M262 188C285 150 330 160 365 200C405 245 425 320 415 365C410 385 400 392 392 390" stroke-width="6" stroke-dasharray="10 9"/>
<ellipse cx="282" cy="316" rx="72" ry="124" transform="rotate(-22 282 316)" class="w" stroke-width="6" stroke-dasharray="12 8"/>
<ellipse cx="282" cy="316" rx="27" ry="50" transform="rotate(-22 282 316)" class="g" stroke-width="5"/>
<path class="g" d="M200 240C195 280 200 330 225 375M362 425C370 455 390 475 412 478M390 392C395 425 410 445 425 450M325 170C360 190 390 240 400 290" stroke-width="5"/>
<path d="M412 478C435 465 452 445 458 425" stroke-width="6" stroke-dasharray="10 9"/>
</g>
<!-- 76 -->
<path class="w" d="M686.6 137.6H700.8V151H686.6Z" stroke-dasharray="5 2 8 2"/>
<path d="M689.6 140.2q1.6 -1.6 3.4 -.6" stroke-width="1.2"/>
<path d="M689 151.2Q693.6 155.6 698 151.2" stroke-width=".9"/>
<path class="g" d="M701 142.4H718" stroke-width=".9"/>
<!-- plug / cable 80 -->
<path class="w" d="M718.4 139.6H722V145.2H718.4ZM722 140.4H726.4V144.6H722Z" stroke-width="1.1"/>
<path d="M720.2 138.8V146" stroke-width="1.4"/>
<path d="M726.4 141.4L737 141.8M726.4 143.6L737 143" stroke-width="1.2"/>
<path d="M737 141.8C743 141.4 748.4 143.4 749 148.6C749.4 154 742 157.6 734 160L721 163.6" stroke-dasharray="1.3 1.5" stroke-width="2.6" stroke-linecap="butt"/>
<path d="M737 141.8C743 141.4 748.4 143.4 749 148.6C749.4 154 742 157.6 734 160L721 163.6" stroke="#fff" stroke-width=".9"/>
<path d="M719.6 163.4l8 -2.4M721 165l7 -2.2" stroke-width="1"/>
<!-- 86 -->
<path class="w" d="M705.6 164.6L714.6 162.4L715.4 166L706.4 168.4Z" stroke-dasharray="2.4 1"/>
<path d="M710.6 163.4l.8 3.8M712.6 162.8l.8 3.8" stroke-width="1"/>
<!-- 98 -->
<ellipse cx="691.6" cy="162.6" rx="4.4" ry="2.6" class="w" stroke-width="1.2"/>
<path d="M688 161.6h7" stroke-width="1.6"/>
<path d="M689.6 164.6q2 1.4 4 0" stroke-width=".9"/>
<path d="M691.6 167.4V186.4" stroke-width="1.1"/>
</g>
<g class="lb">
<text x="91.7" y="136.0">239</text>
<text x="302.9" y="280.6">93</text>
<text x="326.2" y="277.2">97</text>
<text x="272.4" y="324.8">50</text>
<text x="312.8" y="320.7">31</text>
<text x="351.1" y="329.4">52</text>
<text x="238.4" y="345.2">35</text>
<text x="316.2" y="408.0">46</text>
<text x="356.4" y="400.8">39</text>
<text x="398.2" y="398.0">90</text>
<text x="417.9" y="411.0">88</text>
<text x="437.6" y="423.6">95</text>
<text x="499.7" y="406.4">84</text>
<text x="458.0" y="445.0">48</text>
<text x="458.8" y="470.4">30</text>
<text x="428.2" y="489.6">72</text>
<text x="345.6" y="490.0">10</text>
<text x="535.2" y="512.6">36</text>
<text x="365.2" y="565.8">28</text>
<text x="417.2" y="584.0">28</text>
<text x="547.6" y="599.6">73</text>
<text x="472.8" y="627.6">21</text>
<text x="272.8" y="524.4">243</text>
<text x="286.2" y="605.0">249</text>
<text x="156.4" y="404.4">34</text>
<text x="125.2" y="449.0">236</text>
<text x="171.8" y="461.0">17</text>
<text x="204.0" y="472.4">47</text>
<text x="102.2" y="477.4">233</text>
<text x="87.0" y="505.0">40</text>
<text x="136.2" y="520.8">24</text>
<text x="214.2" y="514.0">67</text>
<text x="125.0" y="549.6">41</text>
<text x="125.2" y="599.0">47</text>
<text x="155.6" y="628.4">45</text>
<text x="221.2" y="594.0">14</text>
<text x="472.6" y="252.0">78</text>
<text x="472.2" y="274.0">99</text>
<text x="472.3" y="325.0">82</text>
<text x="563.2" y="189.6">55</text>
<text x="661.6" y="147.6">76</text>
<text x="662.8" y="169.0">98</text>
<text x="754.3" y="155.8">80</text>
<text x="709.7" y="186.0">86</text>
<text x="784.0" y="199.0">34</text>
<text x="758.8" y="266.0">16</text>
<text x="810.0" y="267.6">40</text>
<text x="737.8" y="302.4">47</text>
<text x="852.2" y="293.0">243</text>
<text x="914.3" y="314.6">246</text>
<text x="762.2" y="324.0">24</text>
<text x="762.6" y="345.6">45</text>
<text x="839.0" y="343.0">34</text>
<text x="746.2" y="376.0">243</text>
<text x="866.6" y="371.6">40</text>
<text x="783.0" y="395.4">47</text>
<text x="840.6" y="394.0">68</text>
<text x="797.2" y="419.0">24</text>
<text x="870.8" y="431.0">92</text>
<text x="793.6" y="448.0">45</text>
<text x="846.6" y="472.0">70</text>
<text x="818.9" y="520.4">45</text>
</g>
<path d="M77.8 703.4L83.4 706.8L123.9 694.9L126.8 697L155.4 681.6L113.9 688.1L116 691.3Z" fill="#000"/>
</svg>
</body></html>
